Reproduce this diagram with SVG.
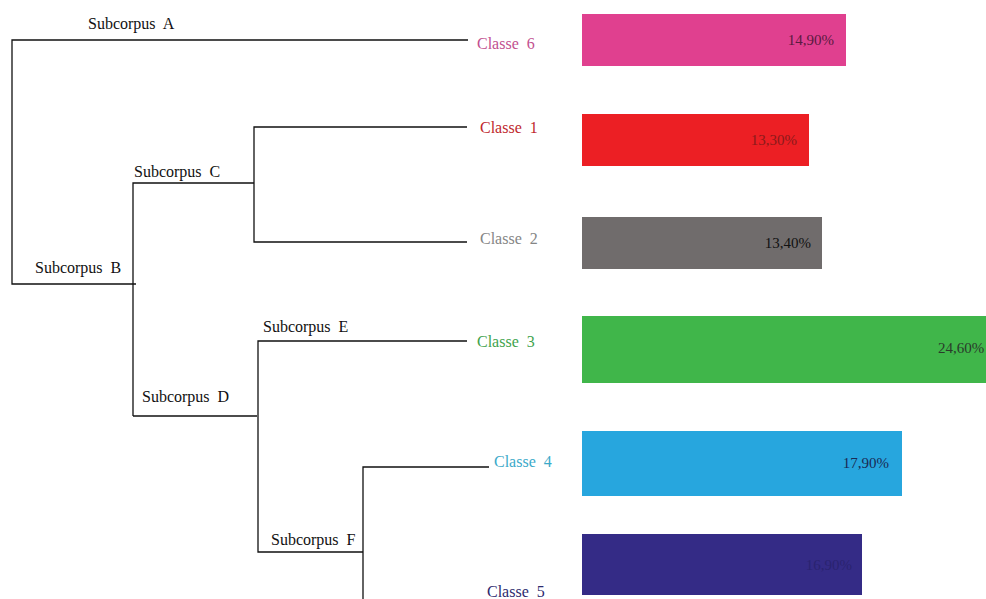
<svg xmlns="http://www.w3.org/2000/svg" width="986" height="599" viewBox="0 0 986 599">
<style>
text{font-family:"Liberation Serif","Times New Roman",serif;}
.sub{font-size:16px;fill:#111;word-spacing:4px;}
.cls{font-size:16px;word-spacing:4px;}
.pct{font-size:15px;text-anchor:end;}
.ln{stroke:#111;stroke-width:1.3;fill:none;}
</style>
<rect width="986" height="599" fill="#fff"/>
<g id="connectors">
<path class="ln" d="M468,40 H12 V284 H136"/>
<path class="ln" d="M133,416 V183 H254"/>
<path class="ln" d="M467,127 H254 V242 H467"/>
<path class="ln" d="M133,416 H257"/>
<path class="ln" d="M467,341 H258 V552 H363"/>
<path class="ln" d="M489,467 H363 V599"/>
</g>
<g id="subcorpus-a"><text class="sub" x="88" y="29">Subcorpus A</text></g>
<g id="subcorpus-b"><text class="sub" x="35" y="273">Subcorpus B</text></g>
<g id="subcorpus-c"><text class="sub" x="134" y="177">Subcorpus C</text></g>
<g id="subcorpus-d"><text class="sub" x="142" y="402">Subcorpus D</text></g>
<g id="subcorpus-e"><text class="sub" x="263" y="332">Subcorpus E</text></g>
<g id="subcorpus-f"><text class="sub" x="271" y="545">Subcorpus F</text></g>
<g id="classe-6"><text class="cls" x="477" y="49" fill="#C2508F">Classe 6</text></g>
<g id="classe-1"><text class="cls" x="480" y="133" fill="#C0282D">Classe 1</text></g>
<g id="classe-2"><text class="cls" x="480" y="244" fill="#858585">Classe 2</text></g>
<g id="classe-3"><text class="cls" x="477" y="347" fill="#3FA34D">Classe 3</text></g>
<g id="classe-4"><text class="cls" x="494" y="467" fill="#3BA9C9">Classe 4</text></g>
<g id="classe-5"><text class="cls" x="487" y="597" fill="#2E2A6E">Classe 5</text></g>
<g id="bar-6"><rect x="582" y="14" width="264" height="52" fill="#E0408F"/><text class="pct" x="834" y="45" fill="#5A1A40">14,90%</text></g>
<g id="bar-1"><rect x="582" y="114" width="227" height="52" fill="#EC1F24"/><text class="pct" x="797" y="145" fill="#8A1A1A">13,30%</text></g>
<g id="bar-2"><rect x="582" y="217" width="240" height="52" fill="#706C6C"/><text class="pct" x="811" y="248" fill="#111">13,40%</text></g>
<g id="bar-3"><rect x="582" y="316" width="404" height="67" fill="#40B64A"/><text x="938" y="353" class="pct" style="text-anchor:start" fill="#2A3A2A">24,60%</text></g>
<g id="bar-4"><rect x="582" y="431" width="320" height="65" fill="#27A6DE"/><text class="pct" x="889" y="468" fill="#1A2A55">17,90%</text></g>
<g id="bar-5"><rect x="582" y="534" width="280" height="61" fill="#342B86"/><text class="pct" x="852" y="570" fill="#2A2370">16,90%</text></g>
</svg>
